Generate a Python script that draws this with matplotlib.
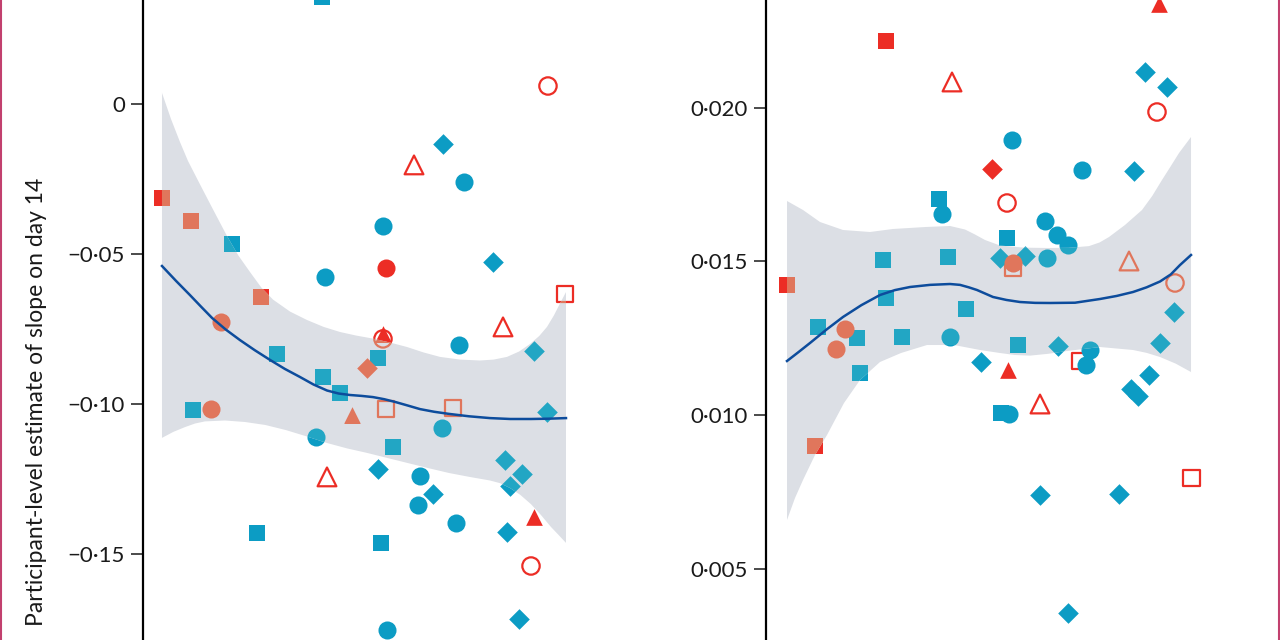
import numpy as np
import matplotlib
matplotlib.use("Agg")
import matplotlib.pyplot as plt
from matplotlib.lines import Line2D

plt.rcParams['font.family'] = ['Lato', 'DejaVu Sans']

# kinds: b = blue filled, r = red filled, R = red open; s/o/D/^ = marker
left_x = [-0.12, 7.18, 17.33, 24.50, 14.60, 28.47, 7.67, 12.13, 39.85, 44.06,
          38.12, 47.03, 50.74, 53.47, 54.70, 54.70, 55.45, 57.18, 40.35, 54.70,
          55.45, 40.84, 53.47, 63.86, 67.08, 63.37, 72.77, 23.51, 54.21, 55.69,
          69.31, 72.03, 73.51, 74.75, 62.38, 69.55, 81.93, 84.41, 92.08, 95.30,
          84.90, 89.11, 86.14, 85.40, 92.08, 91.34, 88.37, 99.75, 95.54, 39.60]
left_y = [-0.0313, -0.0390, -0.0467, -0.0643, -0.0727, -0.0833, -0.1020, -0.1017, -0.0910, -0.0963,
          -0.1110, -0.1037, -0.0880, -0.0847, -0.0783, -0.0767, -0.1017, -0.1143, -0.0577, -0.0407,
          -0.0547, -0.1243, -0.1217, -0.1240, -0.1300, -0.1337, -0.1397, -0.1430, -0.1463, -0.1753,
          -0.1080, -0.1013, -0.0803, -0.0260, -0.0203, -0.0133, -0.0527, -0.0743, -0.0823, -0.1027,
          -0.1187, -0.1233, -0.1273, -0.1427, -0.1377, -0.1540, -0.1717, -0.0633, 0.0060, 0.0358]
left_kind = ['rs', 'rs', 'bs', 'rs', 'ro', 'bs', 'bs', 'ro', 'bs', 'bs',
             'bo', 'r^', 'rD', 'bs', 'Ro', 'r^', 'Rs', 'bs', 'bo', 'bo',
             'ro', 'R^', 'bD', 'bo', 'bD', 'bo', 'bo', 'bs', 'bs', 'bo',
             'bo', 'Rs', 'bo', 'bo', 'R^', 'bD', 'bD', 'R^', 'bD', 'bD',
             'bD', 'bD', 'bD', 'bD', 'r^', 'Ro', 'bD', 'Rs', 'Ro', 'bs']

left_fit_x = [0, 3.5, 6.93, 9.7, 12.38, 15.8, 19.31, 23.0, 26.73, 30.4, 34.16, 37.5, 40.84,
              43.7, 46.53, 49.4, 52.23, 55.0, 57.67, 60.8, 63.86, 67.4, 71.04, 76.0, 81.19,
              86.2, 91.34, 95.7, 100]
left_fit_y = [-0.0540, -0.0590, -0.0637, -0.0676, -0.0713, -0.0752, -0.0787, -0.0821, -0.0853,
              -0.0883, -0.0910, -0.0935, -0.0955, -0.0965, -0.0970, -0.0973, -0.0977, -0.0984,
              -0.0993, -0.1005, -0.1017, -0.1026, -0.1033, -0.1041, -0.1047, -0.1050, -0.1050,
              -0.1049, -0.1047]
left_up_x = [0, 2.23, 4.46, 6.44, 9.41, 12.38, 16.09, 18.9, 21.78, 24.6, 27.48, 31.7, 35.89,
             40.0, 44.06, 48.1, 52.23, 56.4, 60.64, 64.7, 68.81, 73.8, 78.71, 82.1, 85.40,
             88.4, 91.09, 93.4, 95.30, 97.0, 98.51, 100]
left_up_y = [0.0037, -0.0050, -0.0127, -0.0190, -0.0268, -0.0345, -0.0440, -0.0505, -0.0560,
             -0.0612, -0.0652, -0.0692, -0.0720, -0.0743, -0.0760, -0.0772, -0.0782, -0.0795,
             -0.0810, -0.0828, -0.0843, -0.0852, -0.0855, -0.0852, -0.0843, -0.0825, -0.0800,
             -0.0773, -0.0743, -0.0705, -0.0665, -0.0627]
left_lo_x = [0, 2.8, 5.69, 8.2, 10.64, 15.6, 20.54, 25.6, 30.69, 35.8, 40.84, 45.8, 50.74,
             55.8, 60.89, 66.0, 71.04, 76.1, 81.19, 83.7, 86.14, 88.7, 91.34, 93.8, 96.29, 98.2, 100]
left_lo_y = [-0.1113, -0.1093, -0.1077, -0.1065, -0.1058, -0.1055, -0.1060, -0.1070, -0.1087,
             -0.1108, -0.1130, -0.1148, -0.1163, -0.1180, -0.1197, -0.1214, -0.1230, -0.1243,
             -0.1255, -0.1264, -0.1280, -0.1303, -0.1334, -0.1370, -0.1410, -0.1437, -0.1463]

right_x = [-0.12, 7.67, 14.36, 12.13, 17.33, 18.07, 23.76, 24.50, 28.47, 39.85,
           40.35, 37.62, 38.37, 44.31, 48.02, 54.70, 57.18, 52.97, 54.95, 50.74,
           54.46, 54.46, 52.72, 58.91, 55.94, 55.94, 62.62, 55.69, 63.86, 66.83,
           69.55, 64.36, 67.08, 74.99, 74.01, 72.52, 73.02, 85.89, 84.65, 96.04,
           95.79, 92.33, 89.60, 85.15, 86.88, 88.61, 94.06, 91.58, 92.08, 24.50,
           40.84, 100.12, 62.62, 82.18, 69.67, 6.93]
right_y = [0.014236, 0.012870, 0.012806, 0.012155, 0.012513, 0.011375, 0.015049, 0.013813, 0.012546, 0.015146,
           0.012546, 0.017032, 0.016544, 0.013456, 0.011733, 0.011473, 0.012286, 0.010075, 0.010042, 0.018007,
           0.016902, 0.015764, 0.015114, 0.015179, 0.014789, 0.014951, 0.010367, 0.018950, 0.016317, 0.015861,
           0.015536, 0.015114, 0.012253, 0.012123, 0.011635, 0.011765, 0.017975, 0.017942, 0.015016, 0.014301,
           0.013358, 0.012350, 0.011310, 0.010855, 0.010627, 0.021161, 0.020673, 0.019860, 0.023371, 0.022168,
           0.020836, 0.007962, 0.007409, 0.007441, 0.003573, 0.009002]
right_kind = ['rs', 'bs', 'ro', 'ro', 'bs', 'bs', 'bs', 'bs', 'bs', 'bs',
              'bo', 'bs', 'bo', 'bs', 'bD', 'r^', 'bs', 'bs', 'bo', 'rD',
              'Ro', 'bs', 'bD', 'bD', 'Rs', 'ro', 'R^', 'bo', 'bo', 'bo',
              'bo', 'bo', 'bD', 'bo', 'bo', 'Rs', 'bo', 'bD', 'R^', 'Ro',
              'bD', 'bD', 'bD', 'bD', 'bD', 'bD', 'bD', 'Ro', 'r^', 'rs',
              'R^', 'Rs', 'bD', 'bD', 'bD', 'rs']

right_fit_x = [0, 2.9, 5.69, 9.8, 13.86, 18.4, 23.02, 26.7, 30.45, 35.4, 40.35, 42.82, 45.0,
               47.03, 50.99, 54.3, 57.67, 61.4, 65.10, 71.29, 77.48, 81.6, 85.64, 89.0, 92.33,
               95.0, 97.28, 100]
right_fit_y = [0.011765, 0.012060, 0.012350, 0.012790, 0.013196, 0.013580, 0.013911, 0.014070,
               0.014171, 0.014240, 0.014268, 0.014240, 0.014160, 0.014073, 0.013846, 0.013750,
               0.013683, 0.013655, 0.013651, 0.013660, 0.013781, 0.013880, 0.014008, 0.014160,
               0.014350, 0.014580, 0.014886, 0.015211]
right_up_x = [0, 3.96, 8.17, 13.86, 20.54, 26.24, 34.41, 40.35, 44.06, 46.5, 49.01, 52.72,
              58.6, 64.60, 69.7, 74.75, 77.4, 79.70, 83.66, 87.87, 90.4, 92.82, 95.0, 97.03, 100]
right_up_y = [0.016967, 0.016674, 0.016284, 0.016024, 0.015959, 0.016057, 0.016122, 0.016154,
              0.016040, 0.015880, 0.015699, 0.015520, 0.015450, 0.015439, 0.015445, 0.015500,
              0.015620, 0.015796, 0.016187, 0.016674, 0.017130, 0.017650, 0.018100, 0.018527,
              0.019047]
right_lo_x = [0, 1.98, 3.96, 6.93, 9.90, 14.11, 18.07, 23.02, 28.22, 34.65, 41.34, 47.77, 52.72,
              56.4, 60.15, 64.7, 69.31, 77.48, 85.64, 89.0, 92.33, 96.2, 100]
right_lo_y = [0.006596, 0.007311, 0.007896, 0.008709, 0.009359, 0.010400, 0.011147, 0.011733,
              0.012025, 0.012285, 0.012285, 0.012123, 0.012025, 0.011960, 0.011940, 0.012000,
              0.012090, 0.012220, 0.012123, 0.012030, 0.011895, 0.011680, 0.011407]

left_ticks = [0, -0.05, -0.10, -0.15]
left_ticklabels = ['0', '\u22120\u00b705', '\u22120\u00b710', '\u22120\u00b715']
right_ticks = [0.005, 0.010, 0.015, 0.020]
right_ticklabels = ['0\u00b7005', '0\u00b7010', '0\u00b7015', '0\u00b7020']

RED, SALMON = '#ec2d25', '#e0765c'
BLUE, TEAL = '#0c9cc4', '#22a6c4'
BAND = '#dcdfe5'
LINE = '#0d4c9c'
size = {'s': 11, 'o': 13, 'D': 10.5, '^': 12}
size_open = {'s': 12, 'o': 12.5, '^': 13.5}


def scatter_group(ax, xs, ys, kinds, under, clip=None):
    xs, ys = np.array(xs), np.array(ys)
    kinds = np.array(kinds)
    for k in sorted(set(kinds)):
        m = kinds == k
        col = k[0]
        if col == 'b':
            c = TEAL if under else BLUE
        else:
            c = SALMON if under else RED
        mk = k[1]
        if col == 'R':
            sc = ax.scatter(xs[m], ys[m], s=size_open[mk] ** 2, marker=mk, facecolors='none',
                            edgecolors=c, linewidths=1.6, zorder=3 if under else 1)
        else:
            sc = ax.scatter(xs[m], ys[m], s=size[mk] ** 2, marker=mk, color=c,
                            linewidths=0, zorder=3 if under else 1)
        if clip is not None:
            sc.set_clip_path(clip)


def panel(ax, xs, ys, kinds, fx, fy, ux, uy, lx, ly):
    scatter_group(ax, xs, ys, kinds, False)
    band = ax.fill(np.r_[ux, lx[::-1]], np.r_[uy, ly[::-1]], color=BAND, lw=0, zorder=2)[0]
    # the band tints whatever lies under it
    scatter_group(ax, xs, ys, kinds, True, clip=band)
    ax.plot(fx, fy, color=LINE, lw=1.8, zorder=4, solid_joinstyle='round')
    for s in ['top', 'right', 'bottom']:
        ax.spines[s].set_visible(False)
    ax.spines['left'].set_linewidth(1.6)
    ax.tick_params(axis='y', length=9, width=1.1, pad=4, labelsize=16, color='#1a1a1a',
                   labelcolor='#1a1a1a')
    ax.tick_params(axis='x', bottom=False, labelbottom=False)


fig = plt.figure(figsize=(12.8, 6.4), dpi=100)
ax1 = fig.add_axes([143 / 1280, 0, 460 / 1280, 1])
ax2 = fig.add_axes([766 / 1280, 0, 460 / 1280, 1])
for ax in (ax1, ax2):
    ax.patch.set_visible(False)

panel(ax1, left_x, left_y, left_kind, left_fit_x, left_fit_y, left_up_x, left_up_y, left_lo_x, left_lo_y)
panel(ax2, right_x, right_y, right_kind, right_fit_x, right_fit_y, right_up_x, right_up_y, right_lo_x, right_lo_y)

ax1.set_xlim(-4.70, 109.16)
ax1.set_ylim(-0.17867, 0.034667)
ax1.set_yticks(left_ticks)
ax1.set_yticklabels(left_ticklabels)

ax2.set_xlim(-5.20, 108.66)
ax2.set_ylim(0.002695, 0.023501)
ax2.set_yticks(right_ticks)
ax2.set_yticklabels(right_ticklabels)

fig.text(37 / 1280, 1 - 402 / 640, 'Participant-level estimate of slope on day 14',
         rotation=90, ha='center', va='center', fontsize=16.5, color='#1a1a1a')

# frame lines at the picture edges
fig.add_artist(Line2D([1 / 1280, 1 / 1280], [0, 1], color='#c2406e', lw=1.5))
fig.add_artist(Line2D([1278.5 / 1280, 1278.5 / 1280], [0, 1], color='#c2406e', lw=1.5))

fig.savefig('out.png', dpi=100)
